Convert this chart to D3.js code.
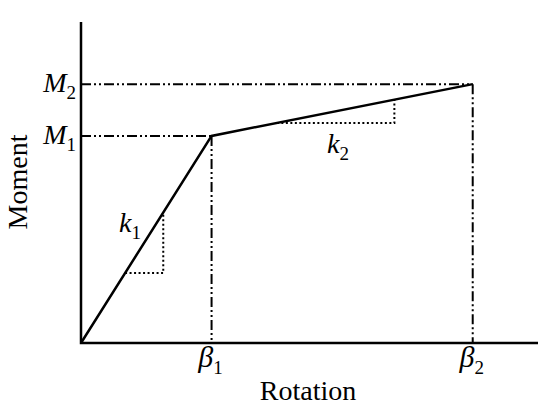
<!DOCTYPE html>
<html>
<head>
<meta charset="utf-8">
<script src="https://cdn.jsdelivr.net/npm/d3@7"></script>
<style>
  body { margin: 0; background: #fff; }
  text { font-family: "Liberation Serif", "Times New Roman", serif; fill: #000; }
</style>
</head>
<body>
<script>
// Size of the page.
const WIDTH = 550;
const HEIGHT = 415;

// Bilinear moment-rotation curve (rotation, moment).
const curveRotation = [0, 1, 3];
const curveMoment = [0, 4, 5];

// Named points on the curve.
const pointNames = ["1", "2"];
const pointRotation = [1, 3];
const pointMoment = [4, 5];

// Stiffness triangles: corner (rotation, moment) under the line.
const triNames = ["1", "2"];
const triRotation = [0.63, 2.4];
const triMoment = [1.35, 4.25];

const svg = d3.select("body").append("svg").attr("width", WIDTH).attr("height", HEIGHT);

const x = d3.scaleLinear().domain([0, 3.5]).range([81, 538]);
const y = d3.scaleLinear().domain([0, 6.2]).range([343, 22]);

// Moment on the curve for a given rotation
function momentAt(r) {
    for (let i = 1; i < curveRotation.length; i++) {
        if (r <= curveRotation[i]) {
            const t = (r - curveRotation[i - 1]) / (curveRotation[i] - curveRotation[i - 1]);
            return curveMoment[i - 1] + t * (curveMoment[i] - curveMoment[i - 1]);
        }
    }
    return curveMoment[curveMoment.length - 1];
}
// Rotation on the curve for a given moment
function rotationAt(m) {
    for (let i = 1; i < curveMoment.length; i++) {
        if (m <= curveMoment[i]) {
            const t = (m - curveMoment[i - 1]) / (curveMoment[i] - curveMoment[i - 1]);
            return curveRotation[i - 1] + t * (curveRotation[i] - curveRotation[i - 1]);
        }
    }
    return curveRotation[curveRotation.length - 1];
}

const line = d3.line().x(d => x(d[0])).y(d => y(d[1]));

// Dash-dot-dot guide lines
const DASH = "10,3,2,3,2,3";
pointRotation.forEach((r, i) => {
    const m = pointMoment[i];
    svg.append("path").attr("d", line([[0, m], [r, m]]))
        .attr("stroke", "#000").attr("stroke-width", 2).attr("fill", "none")
        .attr("stroke-dasharray", DASH);
    svg.append("path").attr("d", line([[r, m], [r, 0]]))
        .attr("stroke", "#000").attr("stroke-width", 2).attr("fill", "none")
        .attr("stroke-dasharray", DASH);
});

// Dotted stiffness triangles
triRotation.forEach((r, i) => {
    const m = triMoment[i];
    svg.append("path")
        .attr("d", line([[rotationAt(m), m], [r, m], [r, momentAt(r)]]))
        .attr("stroke", "#000").attr("stroke-width", 2).attr("fill", "none")
        .attr("stroke-dasharray", "2,2.5");
});

// Axes (plain lines, no ticks)
svg.append("path").attr("d", line([[0, 6.2], [0, 0], [3.5, 0]]))
    .attr("stroke", "#000").attr("stroke-width", 2.5).attr("fill", "none");

// The curve
svg.append("path").attr("d", line(curveRotation.map((r, i) => [r, curveMoment[i]])))
    .attr("stroke", "#000").attr("stroke-width", 2.5).attr("fill", "none")
    .attr("stroke-linejoin", "miter");

// Label with italic symbol and upright subscript
function label(px, py, sym, sub, anchor, size) {
    size = size || 28;
    const t = svg.append("text").attr("x", px).attr("y", py)
        .attr("font-size", size).attr("text-anchor", anchor || "start");
    t.append("tspan").attr("font-style", "italic").text(sym);
    t.append("tspan").attr("font-size", 19).attr("dy", 7).text(sub);
    return t;
}

pointNames.forEach((n, i) => {
    label(x(0) - 5, y(pointMoment[i]) + 8, "M", n, "end");
    label(x(pointRotation[i]) - 1, 367, "\u03B2", n, "middle", 30);
});

label(119, 232, "k", triNames[0]);
label(327, 153, "k", triNames[1]);

svg.append("text").attr("x", 308).attr("y", 400).attr("text-anchor", "middle")
    .attr("font-size", 28).text("Rotation");
svg.append("text").attr("transform", "translate(27,182) rotate(-90)")
    .attr("text-anchor", "middle").attr("font-size", 28).text("Moment");
</script>
</body>
</html>
